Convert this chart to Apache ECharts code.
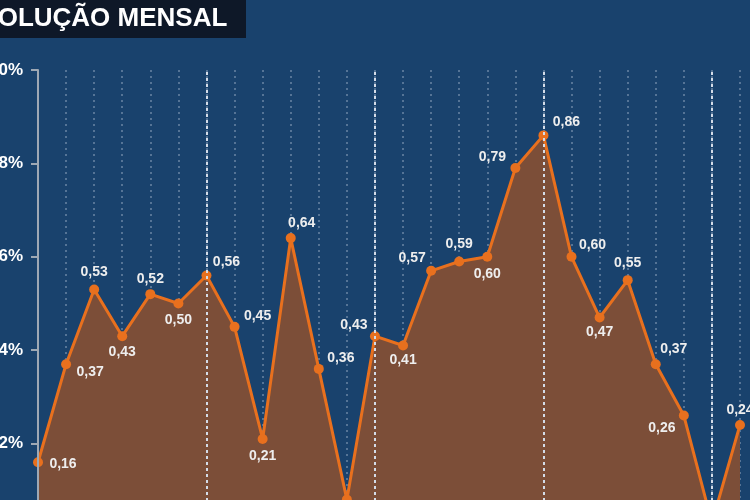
<!DOCTYPE html>
<html>
<head>
<meta charset="utf-8">
<script src="https://cdn.jsdelivr.net/npm/echarts@6/dist/echarts.min.js"></script>
<style>
html,body{margin:0;padding:0;background:#19426d;overflow:hidden;}
#chart{width:750px;height:500px;}
</style>
</head>
<body>
<div id="chart"></div>
<script>
// ---- data ----
const months = ['Jul/11','Ago/11','Set/11','Out/11','Nov/11','Dez/11',
                'Jan/12','Fev/12','Mar/12','Abr/12','Mai/12','Jun/12',
                'Jul/12','Ago/12','Set/12','Out/12','Nov/12','Dez/12',
                'Jan/13','Fev/13','Mar/13','Abr/13','Mai/13','Jun/13',
                'Jul/13','Ago/13'];
const ipca = [0.16,0.37,0.53,0.43,0.52,0.50,
              0.56,0.45,0.21,0.64,0.36,0.08,
              0.43,0.41,0.57,0.59,0.60,0.79,
              0.86,0.60,0.47,0.55,0.37,0.26,
              0.03,0.24];
const yTickLabels = ['0,0%','0,2%','0,4%','0,6%','0,8%','1,0%'];
const semesterMonths = ['Jan/12','Jul/12','Jan/13','Jul/13'];
const titleText = 'EVOLUÇÃO MENSAL';

// ---- label placement (style only) ----
const labelOffsets = [
  [25,2],[24,8],[0,-17],[0,16],[0,-15],[0,17],
  [20,-13],[23,-11],[0,17],[11,-15],[22,-11],[0,17],
  [-21,-11],[0,15],[-19,-13],[0,-17],[0,17],[-23,-11],
  [23,-13],[21,-12],[0,15],[0,-17],[18,-15],[-22,13],
  [0,17],[0,-15]
];

const chart = echarts.init(document.getElementById('chart'));
const fmt = v => v.toFixed(2).replace('.', ',');

chart.setOption({
  backgroundColor: '#19426d',
  animation: false,
  textStyle: { fontFamily: 'Liberation Sans, Arial, sans-serif' },
  graphic: [
    { type: 'rect', left: 0, top: 0, shape: { width: 246, height: 38 },
      style: { fill: '#0e1828' }, z: 10 },
    { type: 'text', x: -37, y: 19, z: 11,
      style: { text: titleText, fill: '#ffffff', font: 'bold 26px "Liberation Sans", Arial, sans-serif',
               verticalAlign: 'middle', align: 'left' } }
  ],
  grid: { left: 38, right: 10, top: 70, bottom: -37, containLabel: false, outerBoundsMode: 'none' },
  xAxis: {
    type: 'category', data: months, boundaryGap: false, z: 3,
    axisLine: { show: false }, axisTick: { show: false }, axisLabel: { show: false },
    splitLine: { show: true, interval: 0,
      lineStyle: { color: 'rgba(205,215,230,0.45)', width: 1.5, type: [2,4] } }
  },
  yAxis: {
    type: 'value', min: 0, max: 1.0, interval: 0.2, z: 4,
    axisLine: { show: true, lineStyle: { color: '#9ea8b4', width: 2 } },
    axisTick: { show: true, length: 7, lineStyle: { color: '#9ea8b4', width: 2 } },
    axisLabel: { color: '#ffffff', fontWeight: 'bold', fontSize: 17, margin: 15,
      formatter: v => yTickLabels[Math.round(v / 0.2)] },
    splitLine: { show: false }
  },
  series: [{
    type: 'line',
    data: ipca.map((v, i) => ({ value: v, label: { offset: labelOffsets[i] } })),
    symbol: 'circle', symbolSize: 10,
    itemStyle: { color: '#e8701e' },
    lineStyle: { color: '#e8701e', width: 3 },
    areaStyle: { color: 'rgb(124,78,56)', opacity: 1 },
    label: { show: true, position: 'inside', color: '#eeeeee', fontWeight: 'bold', fontSize: 14,
      formatter: p => fmt(p.value) },
    markLine: {
      silent: true, symbol: 'none', label: { show: false },
      lineStyle: { color: '#d4dce8', width: 2, type: [3,3] },
      data: semesterMonths.map(m => ({ xAxis: m }))
    }
  }]
});
</script>
</body>
</html>
